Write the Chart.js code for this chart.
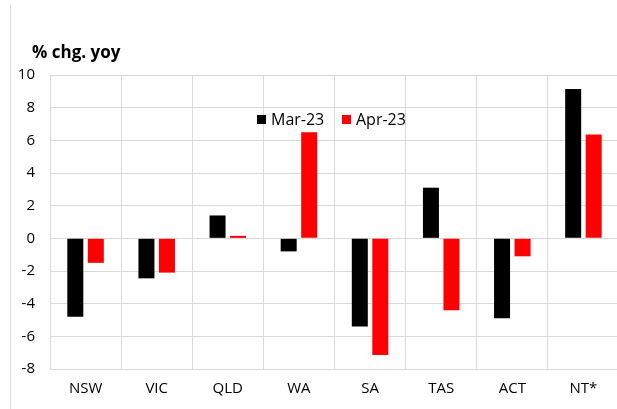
<!DOCTYPE html>
<html>
<head>
<meta charset="utf-8">
<script src="https://cdn.jsdelivr.net/npm/chart.js@4.4.0/dist/chart.umd.min.js"></script>
<style>
html,body{margin:0;padding:0;overflow:hidden;background:#fff;width:617px;height:409px;}
#wrap{position:absolute;left:0;top:0;width:630px;height:409px;}
</style>
</head>
<body>
<div id="wrap"><canvas id="c" width="630" height="409"></canvas></div>
<script>
const categories = ["NSW","VIC","QLD","WA","SA","TAS","ACT","NT*"];
const mar23 = [-4.8, -2.45, 1.4, -0.8, -5.4, 3.1, -4.9, 9.15];
const apr23 = [-1.5, -2.1, 0.15, 6.5, -7.15, -4.4, -1.1, 6.35];
const seriesNames = ["Mar-23","Apr-23"];
const yTicks = [10,8,6,4,2,0,-2,-4,-6,-8];
const axisTitle = "% chg. yoy";

const FONT = "'Open Sans', sans-serif";

const extras = {
  id: 'extras',
  afterDraw(chart) {
    const ctx = chart.ctx;
    ctx.save();
    ctx.strokeStyle = '#d9d9d9';
    ctx.lineWidth = 1;
    ctx.beginPath();
    ctx.moveTo(10.5, 5);
    ctx.lineTo(10.5, 409);
    ctx.stroke();
    ctx.fillStyle = '#000';
    ctx.font = "bold 17px " + FONT;
    ctx.textBaseline = 'alphabetic';
    ctx.textAlign = 'left';
    ctx.fillText(axisTitle, 32, 58);
    const items = [{x:257, c:'#000000', t:seriesNames[0]}, {x:342, c:'#FF0000', t:seriesNames[1]}];
    ctx.font = "16px " + FONT;
    ctx.textBaseline = 'middle';
    items.forEach(it => {
      ctx.fillStyle = it.c;
      ctx.fillRect(it.x, 115, 9, 9);
      ctx.fillStyle = '#000';
      ctx.fillText(it.t, it.x + 14, 120);
    });
    ctx.restore();
  }
};

new Chart(document.getElementById('c'), {
  type: 'bar',
  data: {
    labels: categories,
    datasets: [
      {label: seriesNames[0], data: mar23, backgroundColor: '#000000', borderWidth: 0},
      {label: seriesNames[1], data: apr23, backgroundColor: '#FF0000', borderWidth: 0}
    ]
  },
  options: {
    responsive: false,
    animation: false,
    layout: {padding: {top: 75, right: 11, left: 0, bottom: 0}},
    plugins: {legend: {display: false}, tooltip: {enabled: false}, title: {display: false}},
    datasets: {bar: {categoryPercentage: 0.577, barPercentage: 0.78}},
    scales: {
      x: {
        grid: {color: '#d9d9d9', lineWidth: 1, drawTicks: false, offset: true},
        border: {color: '#d9d9d9'},
        ticks: {color: '#000', font: {family: FONT, size: 15}, padding: 11, maxRotation: 0, autoSkip: false},
        afterFit(s) { s.height = 40; }
      },
      y: {
        min: -8, max: 10,
        grid: {color: '#d9d9d9', lineWidth: 1, drawTicks: false},
        border: {color: '#d9d9d9'},
        afterBuildTicks(s) { s.ticks = yTicks.map(v => ({value: v})); },
        ticks: {color: '#000', font: {family: FONT, size: 15}, padding: 15},
        afterFit(s) { s.width = 50; }
      }
    }
  },
  plugins: [extras]
});
</script>
</body>
</html>
